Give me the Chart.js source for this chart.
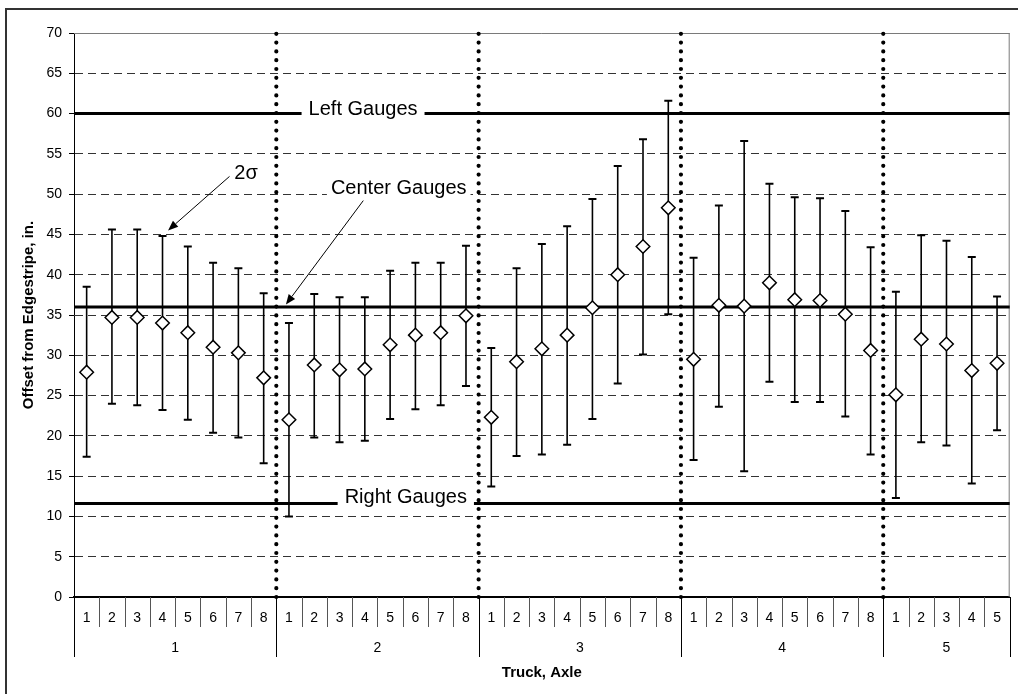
<!DOCTYPE html>
<html><head><meta charset="utf-8">
<script src="https://cdn.jsdelivr.net/npm/chart.js@4"></script>
<style>html,body{margin:0;padding:0;background:#fff}</style>
</head><body>
<canvas id="c" width="1018" height="694"></canvas>
<script>
// ---- data ----
const axleLabels = ['1','2','3','4','5','6','7','8',
                    '1','2','3','4','5','6','7','8',
                    '1','2','3','4','5','6','7','8',
                    '1','2','3','4','5','6','7','8',
                    '1','2','3','4','5'];
const truckLabels = ['1','2','3','4','5'];
const axlesPerTruck = [8, 8, 8, 8, 5];
const meanOffset = [27.9,34.7,34.7,34.0,32.8,31.0,30.3,27.2,
                    22.0,28.8,28.2,28.3,31.3,32.5,32.8,34.9,
                    22.3,29.2,30.8,32.5,35.9,40.0,43.5,48.3,
                    29.5,36.2,36.1,39.0,36.9,36.8,35.1,30.6,
                    25.1,32.0,31.4,28.1,29.0];
const upper2Sigma = [38.5,45.6,45.6,44.8,43.5,41.5,40.8,37.7,
                     34.0,37.6,37.2,37.2,40.5,41.5,41.5,43.6,
                     30.9,40.8,43.8,46.0,49.4,53.5,56.8,61.6,
                     42.1,48.6,56.6,51.3,49.6,49.5,47.9,43.4,
                     37.9,44.9,44.2,42.2,37.3];
const lower2Sigma = [17.4,24.0,23.8,23.2,22.0,20.4,19.8,16.6,
                     10.0,19.8,19.2,19.4,22.1,23.3,23.8,26.2,
                     13.7,17.5,17.7,18.9,22.1,26.5,30.1,35.1,
                     17.0,23.6,15.6,26.7,24.2,24.2,22.4,17.7,
                     12.3,19.2,18.8,14.1,20.7];
const gaugeNames = ['Left Gauges', 'Center Gauges', 'Right Gauges'];
const gaugeValues = [60, 36, 11.6];

// ---- annotation placement (in axis units: category index, offset value) ----
const gaugeLabelPos = [
  {x: 10.93, y: 60.5, pad: 7},
  {x: 12.34, y: 50.7, pad: 4, from: [10.94, 49.2], to: [7.88, 36.3]},
  {x: 12.62, y: 12.4, pad: 7}
];
const sigmaNote = {text: '2\u03C3', x: 5.84, y: 52.6, from: [5.65, 52.2], to: [3.22, 45.5]};

const FONT = "'Liberation Sans', Arial, Helvetica, sans-serif";
Chart.defaults.font.family = FONT;
Chart.defaults.color = '#000';

function arrow(ctx, x1, y1, x2, y2) {
  const ang = Math.atan2(y2 - y1, x2 - x1), L = 10, W = 4;
  const bx = x2 - L * Math.cos(ang), by = y2 - L * Math.sin(ang);
  ctx.beginPath(); ctx.moveTo(x1, y1); ctx.lineTo(bx, by);
  ctx.lineWidth = 1; ctx.strokeStyle = '#000'; ctx.stroke();
  ctx.beginPath(); ctx.moveTo(x2, y2);
  ctx.lineTo(bx + W * Math.sin(ang), by - W * Math.cos(ang));
  ctx.lineTo(bx - W * Math.sin(ang), by + W * Math.cos(ang));
  ctx.closePath(); ctx.fillStyle = '#000'; ctx.fill();
}

const overlay = {
  id: 'overlay',
  beforeDatasetsDraw(chart) {
    const {ctx, chartArea: a, scales: {x, y}} = chart;
    ctx.save();
    // plot frame top/right
    ctx.strokeStyle = '#7a7a7a'; ctx.lineWidth = 1;
    ctx.beginPath();
    ctx.moveTo(a.left, a.top + 0.5); ctx.lineTo(a.right, a.top + 0.5);
    ctx.moveTo(a.right - 0.5, a.top); ctx.lineTo(a.right - 0.5, a.bottom);
    ctx.stroke();
    // gauge lines
    ctx.strokeStyle = '#000'; ctx.lineWidth = 3;
    gaugeValues.forEach(v => {
      const py = y.getPixelForValue(v);
      ctx.beginPath(); ctx.moveTo(a.left, py); ctx.lineTo(a.right, py); ctx.stroke();
    });
    // gauge labels
    ctx.font = '20px ' + FONT; ctx.textAlign = 'center'; ctx.textBaseline = 'middle';
    gaugeNames.forEach((name, i) => {
      const p = gaugeLabelPos[i];
      const px = x.getPixelForValue(p.x), py = y.getPixelForValue(p.y);
      const w = ctx.measureText(name).width;
      ctx.fillStyle = '#fff';
      ctx.fillRect(px - w / 2 - p.pad, py - 11, w + 2 * p.pad, 22);
      ctx.fillStyle = '#000';
      ctx.fillText(name, px, py);
      if (p.from) arrow(ctx, x.getPixelForValue(p.from[0]), y.getPixelForValue(p.from[1]),
                        x.getPixelForValue(p.to[0]), y.getPixelForValue(p.to[1]));
    });
    // 2 sigma note
    ctx.font = '20px ' + FONT; ctx.textAlign = 'left'; ctx.fillStyle = '#000';
    ctx.fillText(sigmaNote.text, x.getPixelForValue(sigmaNote.x), y.getPixelForValue(sigmaNote.y));
    arrow(ctx, x.getPixelForValue(sigmaNote.from[0]), y.getPixelForValue(sigmaNote.from[1]),
          x.getPixelForValue(sigmaNote.to[0]), y.getPixelForValue(sigmaNote.to[1]));
    // dotted truck dividers
    ctx.setLineDash([0, 8.8]); ctx.lineCap = 'round'; ctx.lineWidth = 4.2; ctx.strokeStyle = '#000';
    let idx = 0;
    axlesPerTruck.slice(0, -1).forEach(n => {
      idx += n;
      const px = (x.getPixelForValue(idx - 1) + x.getPixelForValue(idx)) / 2;
      ctx.beginPath(); ctx.moveTo(px, a.bottom); ctx.lineTo(px, a.top); ctx.stroke();
    });
    ctx.setLineDash([]); ctx.lineCap = 'butt';
    // error bars
    meanOffset.forEach((m, i) => {
      const px = x.getPixelForValue(i);
      const pt = y.getPixelForValue(upper2Sigma[i]), pb = y.getPixelForValue(lower2Sigma[i]);
      ctx.lineWidth = 1.6; ctx.strokeStyle = '#000';
      ctx.beginPath(); ctx.moveTo(px, pt); ctx.lineTo(px, pb); ctx.stroke();
      ctx.lineWidth = 2;
      ctx.beginPath();
      ctx.moveTo(px - 4, pt); ctx.lineTo(px + 4, pt);
      ctx.moveTo(px - 4, pb); ctx.lineTo(px + 4, pb);
      ctx.stroke();
    });
    ctx.restore();
  },
  afterDraw(chart) {
    const {ctx, chartArea: a, scales: {x}} = chart;
    ctx.save();
    const cw = x.getPixelForValue(1) - x.getPixelForValue(0);
    ctx.font = '14px ' + FONT; ctx.textAlign = 'center'; ctx.textBaseline = 'middle'; ctx.fillStyle = '#000';
    axleLabels.forEach((t, i) => ctx.fillText(t, x.getPixelForValue(i), a.bottom + 21));
    // separators
    const bounds = new Set([0]); let s = 0;
    axlesPerTruck.forEach(n => { s += n; bounds.add(s); });
    for (let i = 0; i <= axleLabels.length; i++) {
      const px = Math.round(x.getPixelForValue(i) - cw / 2) + 0.5;
      const long = bounds.has(i);
      ctx.strokeStyle = long ? '#000' : '#555'; ctx.lineWidth = 1;
      ctx.beginPath(); ctx.moveTo(px, a.bottom); ctx.lineTo(px, a.bottom + (long ? 60 : 30)); ctx.stroke();
    }
    // truck labels
    s = 0;
    truckLabels.forEach((t, k) => {
      const c = (x.getPixelForValue(s) + x.getPixelForValue(s + axlesPerTruck[k] - 1)) / 2;
      ctx.fillText(t, c, a.bottom + 51);
      s += axlesPerTruck[k];
    });
    // outer border
    ctx.strokeStyle = '#333'; ctx.lineWidth = 2;
    ctx.beginPath(); ctx.moveTo(6, 694); ctx.lineTo(6, 9); ctx.lineTo(1018, 9); ctx.stroke();
    ctx.restore();
  }
};

new Chart(document.getElementById('c'), {
  type: 'line',
  data: {
    labels: axleLabels.map((a, i) => i),
    datasets: [{
      data: meanOffset,
      showLine: false,
      pointStyle: 'rectRot',
      pointRadius: 6.8,
      pointBorderWidth: 1.5,
      pointBackgroundColor: '#fff',
      pointBorderColor: '#000'
    }]
  },
  options: {
    responsive: false,
    animation: false,
    layout: {padding: {top: 33, right: 5, left: 0, bottom: 0}},
    plugins: {legend: {display: false}, tooltip: {enabled: false}},
    scales: {
      x: {
        type: 'category', offset: true,
        grid: {display: true, drawOnChartArea: false, drawTicks: false},
        ticks: {display: false},
        border: {display: true, color: '#000', width: 2},
        title: {display: true, text: 'Truck, Axle', color: '#000',
                font: {weight: 'bold', size: 15}, padding: {top: 0, bottom: 12}},
        afterFit(s) { s.height = 97; }
      },
      y: {
        min: 0, max: 70,
        ticks: {stepSize: 5, color: '#000', font: {size: 14}, padding: 7},
        grid: {color: '#333', lineWidth: 1, tickLength: 5, tickColor: '#000', tickBorderDash: []},
        border: {display: true, color: '#000', width: 1, dash: [8, 5]},
        title: {display: true, text: 'Offset from Edgestripe, in.', color: '#000',
                font: {weight: 'bold', size: 15}, padding: {top: 20, bottom: 0}},
        afterFit(s) { s.width = 74; }
      }
    }
  },
  plugins: [overlay]
});
</script>
</body></html>
